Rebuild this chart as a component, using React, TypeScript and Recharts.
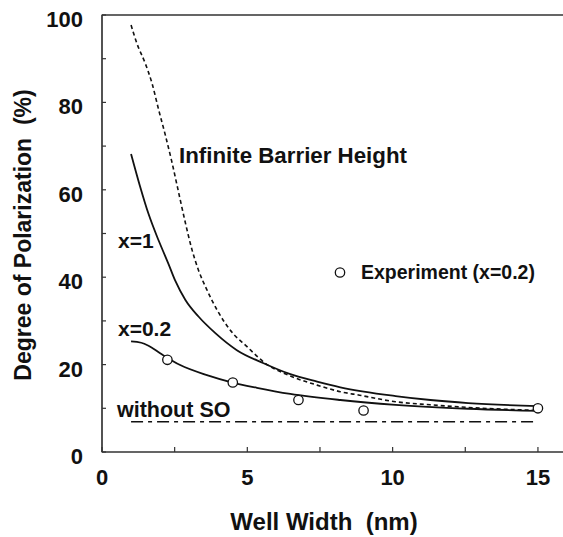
import React from "react";
import { ComposedChart, Line, Scatter, XAxis, YAxis } from "recharts";

// well width (nm) / degree of polarization (%)
const infiniteWidth = [1.0, 1.2, 1.49, 1.72, 1.95, 2.18, 2.4, 2.6, 2.85, 3.1, 3.32, 3.61, 3.96, 4.41, 4.99, 5.62, 6.48, 7.4, 8.2, 8.86, 10.1, 11.3, 12.6, 15];
const infinitePol = [97.7, 93.5, 88.9, 84.4, 78.3, 72.5, 66.5, 60.5, 53.0, 46.2, 41.6, 37.1, 32.5, 27.9, 24.1, 20.3, 17.4, 15.3, 13.8, 13.0, 11.5, 10.8, 10.2, 9.5];

const x1Width = [1.0, 1.3, 1.6, 1.9, 2.1, 2.29, 2.52, 2.87, 3.32, 3.9, 4.64, 5.56, 6.48, 7.4, 8.2, 10.1, 11.3, 12.6, 15];
const x1Pol = [68.2, 61.0, 54.5, 49.2, 46.0, 43.0, 39.2, 34.8, 31.0, 27.2, 23.3, 20.3, 17.8, 16.1, 14.8, 12.8, 11.9, 11.2, 10.5];

const x02Width = [1.0, 1.35, 1.6, 2.0, 2.69, 3.61, 4.49, 5.33, 6.48, 8.2, 10.1, 12.6, 15];
const x02Pol = [25.3, 25.0, 24.3, 22.6, 19.9, 17.6, 15.9, 14.7, 13.3, 11.9, 10.8, 9.9, 9.4];

const noSoWidth = [1.0, 15];
const noSoPol = [6.9, 6.9];

const exptWidth = [2.25, 4.5, 6.76, 9.0, 15];
const exptPol = [21.1, 15.9, 11.9, 9.5, 10.0];

const xTicks = [0, 2.5, 5, 7.5, 10, 12.5, 15];
const yTicks = [0, 10, 20, 30, 40, 50, 60, 70, 80, 90, 100];

const toRows = (w: number[], p: number[]) => w.map((v, i) => ({ w: v, p: p[i] }));

const INK = "#111111";
const EDGE = "#333333";
const FONT = "'Liberation Sans', Arial, Helvetica, sans-serif";

// plot box: the frame is drawn on the same edges
const CHART_W = 568;
const CHART_H = 537;
const M = { top: 14, right: 0, bottom: 55, left: 42 };
const Y_AXIS_W = 60;
const X_AXIS_H = 30;
const PLOT_LEFT = M.left + Y_AXIS_W;
const PLOT_TOP = M.top + 1;
const PLOT_BOTTOM = CHART_H - M.bottom - X_AXIS_H;

// inward tick marks, drawn as thin rects
const BottomTick = (props: any) => {
  const { x, y, payload } = props;
  const v = payload.value;
  return (
    <g>
      <rect x={x - 0.6} y={y - 5} width={1.2} height={5} fill={EDGE} />
      {v % 5 === 0 && (
        <text x={x} y={y + 33} textAnchor="middle" fontFamily={FONT} fontWeight="bold" fontSize={22} fill={INK}>
          {v}
        </text>
      )}
    </g>
  );
};

const TopTick = (props: any) => (
  <g>
    <rect x={props.x - 0.6} y={props.y} width={1.2} height={5} fill={EDGE} />
  </g>
);

const LeftTick = (props: any) => {
  const { x, y, payload } = props;
  const v = payload.value;
  return (
    <g>
      <rect x={x} y={y - 0.6} width={4} height={1.2} fill={EDGE} />
      {v % 20 === 0 && (
        <text x={x - 19} y={y + 12} textAnchor="end" fontFamily={FONT} fontWeight="bold" fontSize={22} fill={INK}>
          {v}
        </text>
      )}
    </g>
  );
};

const RightTick = (props: any) => (
  <g>
    <rect x={props.x - 6} y={props.y - 0.6} width={6} height={1.2} fill={EDGE} />
  </g>
);

const OpenCircle = (props: any) => (
  <circle cx={props.cx} cy={props.cy} r={4.7} fill="#fff" stroke={INK} strokeWidth={1.3} />
);

const textStyle = { fontFamily: FONT, fontWeight: 700, fill: INK, whiteSpace: "pre" as const };
const frame = { stroke: EDGE, strokeWidth: 1.2 };

export default function App() {
  return (
    <div style={{ position: "absolute", left: 0, top: 0, width: 563, height: 537, overflow: "hidden", background: "#fff" }}>
      <ComposedChart width={CHART_W} height={CHART_H} margin={M}>
        <XAxis
          type="number"
          dataKey="w"
          domain={[0, 16]}
          ticks={xTicks}
          tickLine={false}
          tickSize={0}
          tickMargin={0}
          axisLine={frame}
          tick={<BottomTick />}
          height={X_AXIS_H}
        />
        <XAxis
          xAxisId="top"
          orientation="top"
          type="number"
          dataKey="w"
          domain={[0, 16]}
          ticks={xTicks}
          tickLine={false}
          tickSize={0}
          tickMargin={0}
          axisLine={frame}
          tick={<TopTick />}
          height={1}
        />
        <YAxis
          type="number"
          dataKey="p"
          domain={[0, 100]}
          ticks={yTicks}
          tickLine={false}
          tickSize={0}
          tickMargin={0}
          axisLine={frame}
          tick={<LeftTick />}
          width={Y_AXIS_W}
        />
        <YAxis
          yAxisId="right"
          orientation="right"
          type="number"
          dataKey="p"
          domain={[0, 100]}
          ticks={yTicks}
          tickLine={false}
          tickSize={0}
          tickMargin={0}
          axisLine={frame}
          tick={<RightTick />}
          width={1}
        />
        <Line
          data={toRows(infiniteWidth, infinitePol)}
          dataKey="p"
          type="monotone"
          stroke={INK}
          strokeWidth={1.6}
          strokeDasharray="4 3"
          dot={false}
          isAnimationActive={false}
        />
        <Line
          data={toRows(x1Width, x1Pol)}
          dataKey="p"
          type="monotone"
          stroke={INK}
          strokeWidth={1.8}
          dot={false}
          isAnimationActive={false}
        />
        <Line
          data={toRows(x02Width, x02Pol)}
          dataKey="p"
          type="monotone"
          stroke={INK}
          strokeWidth={1.8}
          dot={false}
          isAnimationActive={false}
        />
        <Line
          data={toRows(noSoWidth, noSoPol)}
          dataKey="p"
          type="linear"
          stroke={INK}
          strokeWidth={1.5}
          strokeDasharray="12 5 4 5"
          dot={false}
          isAnimationActive={false}
        />
        <Scatter data={toRows(exptWidth, exptPol)} dataKey="p" shape={<OpenCircle />} isAnimationActive={false} />
      </ComposedChart>

      <svg width={563} height={537} style={{ position: "absolute", left: 0, top: 0, pointerEvents: "none" }}>
        {/* plot frame: top, left and bottom edges */}
        <path
          d={`M ${CHART_W} ${PLOT_TOP} H ${PLOT_LEFT} V ${PLOT_BOTTOM} H ${CHART_W}`}
          fill="none"
          stroke={EDGE}
          strokeWidth={1.2}
        />
        <text transform="translate(31,235) rotate(-90)" textAnchor="middle" fontSize={23} style={textStyle}>
          {"Degree of Polarization  (%)"}
        </text>
        <text x={324} y={530} textAnchor="middle" fontSize={24} style={textStyle}>
          {"Well Width  (nm)"}
        </text>
        <text x={179} y={162.5} fontSize={22.3} style={textStyle}>Infinite Barrier Height</text>
        <text x={118} y={247.5} fontSize={21} style={textStyle}>x=1</text>
        <text x={118} y={336} fontSize={21} style={textStyle}>x=0.2</text>
        <text x={117} y={417} fontSize={21.5} style={textStyle}>without SO</text>
        <circle cx={340} cy={272.5} r={4.7} fill="#fff" stroke={INK} strokeWidth={1.3} />
        <text x={361} y={279} fontSize={19.5} style={textStyle}>{"Experiment (x=0.2)"}</text>
      </svg>
    </div>
  );
}
